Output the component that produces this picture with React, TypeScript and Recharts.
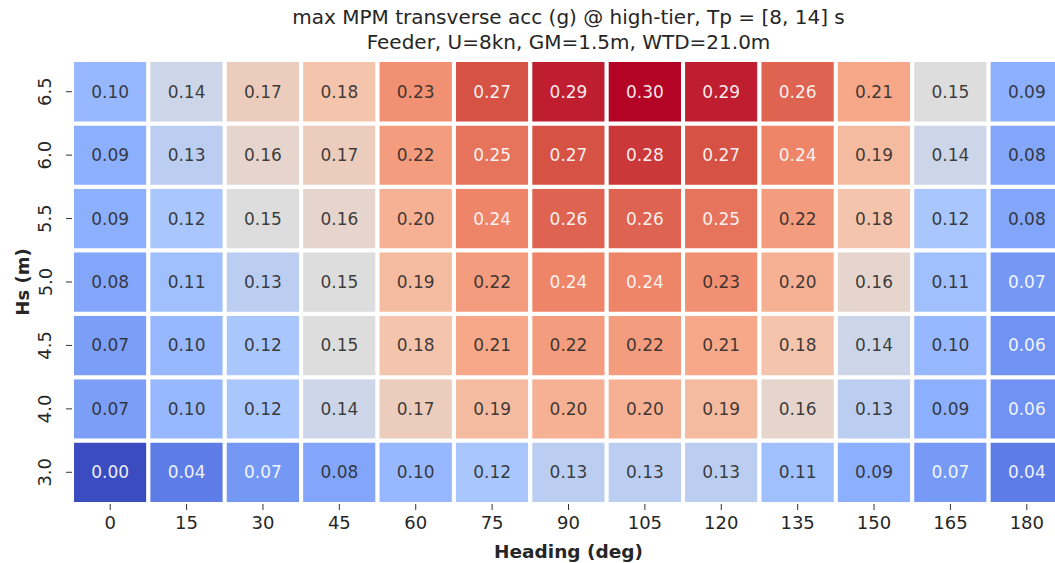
import React from 'react';
import { ComposedChart, XAxis, YAxis, ReferenceArea, Scatter } from 'recharts';

const headings = [0, 15, 30, 45, 60, 75, 90, 105, 120, 135, 150, 165, 180];
const hsLabels = ['3.0', '4.0', '4.5', '5.0', '5.5', '6.0', '6.5'];

const accHs30 = [0.0, 0.04, 0.066, 0.08, 0.1, 0.12, 0.13, 0.13, 0.13, 0.11, 0.09, 0.068, 0.04];
const accHs40 = [0.072, 0.1, 0.12, 0.14, 0.17, 0.19, 0.2, 0.2, 0.19, 0.16, 0.13, 0.09, 0.06];
const accHs45 = [0.072, 0.1, 0.12, 0.15, 0.18, 0.21, 0.22, 0.22, 0.21, 0.18, 0.14, 0.1, 0.06];
const accHs50 = [0.08, 0.11, 0.13, 0.15, 0.19, 0.22, 0.24, 0.24, 0.23, 0.2, 0.16, 0.11, 0.066];
const accHs55 = [0.09, 0.12, 0.15, 0.16, 0.2, 0.24, 0.26, 0.26, 0.25, 0.22, 0.18, 0.12, 0.08];
const accHs60 = [0.09, 0.13, 0.16, 0.17, 0.22, 0.25, 0.27, 0.28, 0.27, 0.24, 0.19, 0.14, 0.08];
const accHs65 = [0.1, 0.14, 0.17, 0.18, 0.23, 0.27, 0.29, 0.3, 0.29, 0.26, 0.21, 0.15, 0.09];

const rows = [accHs30, accHs40, accHs45, accHs50, accHs55, accHs60, accHs65];

const VMIN = 0;
const VMAX = 0.3;

const coolwarm: [number, number, number][] = [
  [59, 76, 192],
  [85, 113, 223],
  [111, 146, 243],
  [141, 176, 254],
  [170, 199, 253],
  [221, 221, 221],
  [244, 196, 173],
  [247, 168, 137],
  [238, 132, 104],
  [214, 82, 68],
  [180, 4, 38],
];

function cmap(v: number): string {
  let t = (v - VMIN) / (VMAX - VMIN);
  t = Math.max(0, Math.min(1, t));
  const p = t * (coolwarm.length - 1);
  const i = Math.min(coolwarm.length - 2, Math.floor(p));
  const f = p - i;
  const a = coolwarm[i];
  const b = coolwarm[i + 1];
  const c = a.map((ai, k) => Math.round(ai + (b[k] - ai) * f));
  return `rgb(${c[0]},${c[1]},${c[2]})`;
}

const cells = rows.flatMap((r, yi) => r.map((v, xi) => ({ x: xi, y: yi, v })));

const FONT = '"DejaVu Sans", sans-serif';

const YTick = (props: any) => {
  const { x, y, payload } = props;
  const cx = x - 19;
  return (
    <g>
      <text
        x={cx}
        y={y}
        transform={`rotate(-90 ${cx} ${y})`}
        textAnchor="middle"
        dominantBaseline="central"
        fontSize={18}
        fontFamily={FONT}
        fill="#262626"
      >
        {hsLabels[payload.value]}
      </text>
    </g>
  );
};

export default function App() {
  return (
    <div style={{ position: 'absolute', left: 0, top: 0, width: 1055, height: 563, overflow: 'hidden', background: '#fff' }}>
      <div
        style={{
          position: 'absolute',
          left: 72,
          top: 5,
          width: 993,
          textAlign: 'center',
          fontFamily: FONT,
          fontSize: 20,
          lineHeight: '25px',
          color: '#262626',
        }}
      >
        <div>max MPM transverse acc (g) @ high-tier, Tp = [8, 14] s</div>
        <div>Feeder, U=8kn, GM=1.5m, WTD=21.0m</div>
      </div>
      <ComposedChart width={1080} height={563} margin={{ top: 60, right: 15, bottom: 0, left: 0 }} data={cells}>
        <XAxis
          type="number"
          dataKey="x"
          domain={[-0.5, 12.5]}
          ticks={headings.map((_, i) => i)}
          tickFormatter={(i: number) => String(headings[i])}
          axisLine={false}
          tickSize={6}
          tickMargin={6}
          tickLine={{ stroke: '#333' }}
          tick={{ fontSize: 18, fontFamily: FONT, fill: '#262626' }}
          height={59}
          interval={0}
          label={{
            content: (p: any) => {
              const vb = p.viewBox;
              return (
                <text
                  x={vb.x + vb.width / 2}
                  y={vb.y + 47}
                  textAnchor="middle"
                  dominantBaseline="central"
                  fontSize={18.5}
                  fontWeight="bold"
                  fontFamily={FONT}
                  fill="#262626"
                >
                  Heading (deg)
                </text>
              );
            },
          }}
        />
        <YAxis
          type="number"
          dataKey="y"
          domain={[-0.5, 6.5]}
          ticks={hsLabels.map((_, i) => i)}
          axisLine={false}
          tickSize={6}
          tickMargin={2}
          tickLine={{ stroke: '#333' }}
          tick={<YTick />}
          width={72}
          interval={0}
          label={{
            content: (p: any) => {
              const vb = p.viewBox;
              const cx = vb.x + 22;
              const cy = vb.y + vb.height / 2;
              return (
                <text
                  x={cx}
                  y={cy}
                  transform={`rotate(-90 ${cx} ${cy})`}
                  textAnchor="middle"
                  dominantBaseline="central"
                  fontSize={18}
                  fontWeight="bold"
                  fontFamily={FONT}
                  fill="#262626"
                >
                  Hs (m)
                </text>
              );
            },
          }}
        />
        {cells.map((c) => {
          const white = c.v < 0.07 || c.v >= 0.235;
          return (
            <ReferenceArea
              key={`${c.x}-${c.y}`}
              x1={c.x - 0.5}
              x2={c.x + 0.5}
              y1={c.y - 0.5}
              y2={c.y + 0.5}
              fill={cmap(c.v)}
              fillOpacity={1}
              stroke="#ffffff"
              strokeWidth={4}
              ifOverflow="visible"
              label={{
                value: c.v.toFixed(2),
                position: 'center',
                fill: white ? '#ffffff' : '#262626',
                fillOpacity: white ? 0.92 : 0.88,
                fontSize: 17,
                fontFamily: FONT,
              }}
            />
          );
        })}
        <Scatter dataKey="y" isAnimationActive={false} shape={() => null} />
      </ComposedChart>
    </div>
  );
}
